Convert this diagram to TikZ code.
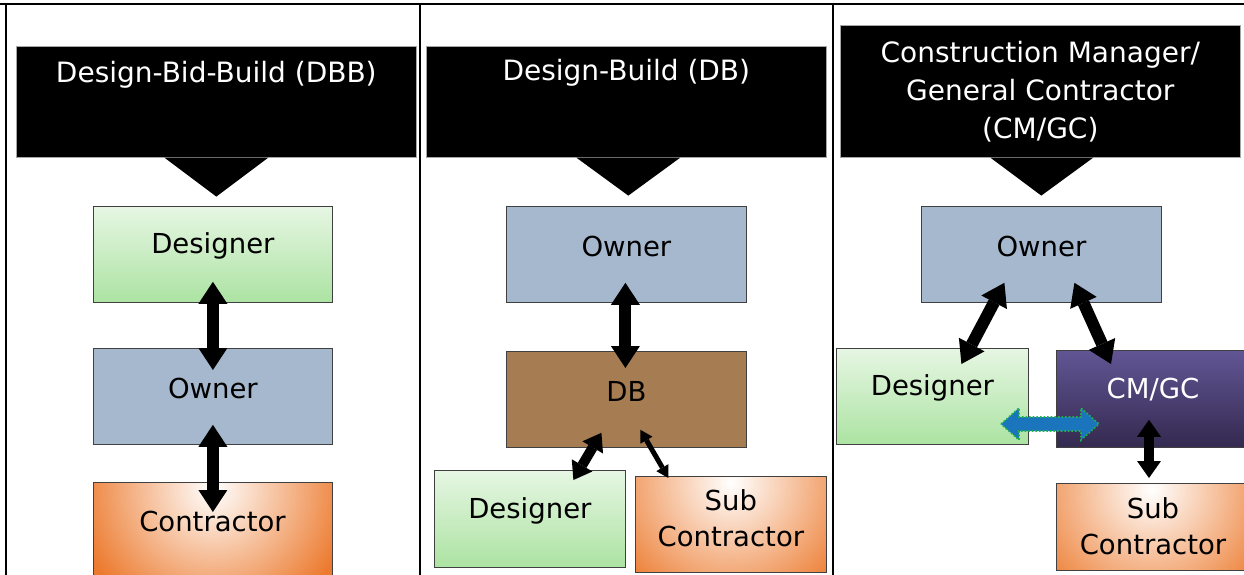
\documentclass[tikz,border=0pt]{standalone}
\usepackage{fontspec}
\setmainfont{DejaVu Sans}
\usetikzlibrary{arrows.meta,calc}
\definecolor{ownerc}{HTML}{A6B8CE}
\definecolor{boxline}{HTML}{404040}
\definecolor{grntop}{HTML}{E6F6E3}
\definecolor{grnbot}{HTML}{ACE3A2}
\definecolor{orng}{HTML}{EC7A2E}
\definecolor{brownc}{HTML}{A67C52}
\definecolor{purtop}{HTML}{615694}
\definecolor{purbot}{HTML}{34294F}
\definecolor{bluearrow}{HTML}{1B75BC}
\definecolor{grndot}{HTML}{22B24C}
\begin{document}
\begin{tikzpicture}[x=1pt,y=-1pt,
  frame/.style={line width=2.5pt, black},
  hdr/.style={fill=black, draw=gray!70, line width=0.6pt, anchor=north west, inner sep=0pt},
  hdrtxt/.style={text=white, font=\fontsize{28}{38}\selectfont, align=center},
  txt/.style={font=\fontsize{27.5}{36}\selectfont, align=center},
  box/.style={draw=boxline, line width=0.8pt, anchor=north west, inner sep=0pt},
  greenbox/.style={box, top color=grntop, bottom color=grnbot},
  ownerbox/.style={box, fill=ownerc},
  brownbox/.style={box, fill=brownc},
  purplebox/.style={box, top color=purtop, bottom color=purbot},
  orangebox/.style={box, fill=orng, path picture={\shade[inner color=white, outer color=orng] ($(path picture bounding box.north)+(0,6)$) circle (140);}},
  bigarrow/.style={line width=12pt, {Triangle[width=29pt,length=22pt,line width=0pt]}-{Triangle[width=29pt,length=22pt,line width=0pt]}},
  midarrow/.style={line width=10pt, {Triangle[width=24pt,length=17pt,line width=0pt]}-{Triangle[width=24pt,length=17pt,line width=0pt]}},
  thinarrow/.style={line width=5pt, {Triangle[width=14pt,length=12pt,line width=0pt]}-{Triangle[width=14pt,length=12pt,line width=0pt]}},
  tri/.style={fill=black}
]
\useasboundingbox (0,0) rectangle (1244,575);
\clip (0,0) rectangle (1244,575);
\fill[white] (0,0) rectangle (1244,575);

% frame
\draw[frame] (0,4) -- (1244,4);
\draw[frame] (6,4) -- (6,575);
\draw[frame] (420,4) -- (420,575);
\draw[frame] (833,4) -- (833,575);

% ---------- Column 1: DBB ----------
\node[hdr, minimum width=400, minimum height=111] (h1) at (16,46) {};
\node[hdrtxt] (h1t) at ($(h1.north)+(0,29)$) {Design-Bid-Build (DBB)};
\fill[tri] ($(h1.south)+(-52,0)$) -- ($(h1.south)+(52,0)$) -- ($(h1.south)+(0,39)$) -- cycle;

\node[greenbox, minimum width=239, minimum height=96, label={[txt, yshift=8pt]center:Designer}] (des1) at (93,206) {};
\node[ownerbox, minimum width=239, minimum height=96, label={[txt, yshift=8pt]center:Owner}] (own1) at (93,348) {};
\node[orangebox, minimum width=239, minimum height=110] (con1) at (93,482) {};
\node[txt] (con1t) at (212.5,521) {Contractor};

\draw[bigarrow] ($(des1.south)+(0,-21)$) -- ($(own1.north)+(0,22)$);
\draw[bigarrow] ($(own1.south)+(0,-20)$) -- ($(con1.north)+(0,30)$);

% ---------- Column 2: DB ----------
\node[hdr, minimum width=400, minimum height=111] (h2) at (426,46) {};
\node[hdrtxt] (h2t) at ($(h2.north)+(0,27)$) {Design-Build (DB)};
\fill[tri] ($(h2.south)+(-50,0)$) -- ($(h2.south)+(54,0)$) -- ($(h2.south)+(2,38)$) -- cycle;

\node[ownerbox, minimum width=240, minimum height=96, label={[txt, yshift=8pt]center:Owner}] (own2) at (506,206) {};
\node[brownbox, minimum width=240, minimum height=96, label={[txt, yshift=8pt]center:DB}] (db2) at (506,351) {};
\node[greenbox, minimum width=191, minimum height=97, label={[txt, yshift=8pt]center:Designer}] (des2) at (434,470) {};
\node[orangebox, minimum width=191, minimum height=96, label={[txt, yshift=6pt]center:Sub\\Contractor}] (sub2) at (635,476) {};

\draw[bigarrow] ($(own2.south)+(-1,-20)$) -- ($(db2.north)+(-1,17)$);
\draw[midarrow] ($(db2.south)+(-25,-15)$) -- ($(des2.north)+(43.5,10)$);
\draw[thinarrow] ($(db2.south)+(14,-18)$) -- ($(sub2.north)+(-62.5,2)$);

% ---------- Column 3: CM/GC ----------
\node[hdr, minimum width=400, minimum height=132] (h3) at (840,25) {};
\node[hdrtxt] (h3t) at (h3.center) {Construction Manager/\\General Contractor\\(CM/GC)};
\fill[tri] ($(h3.south)+(-50,0)$) -- ($(h3.south)+(53,0)$) -- ($(h3.south)+(1,38)$) -- cycle;

\node[ownerbox, minimum width=240, minimum height=96, label={[txt, yshift=8pt]center:Owner}] (own3) at (921,206) {};
\node[greenbox, minimum width=192, minimum height=96, label={[txt, yshift=8pt]center:Designer}] (des3) at (836,348) {};
\node[purplebox, minimum width=194, minimum height=97] (cm3) at (1056,350) {};
\node[txt, text=white] (cm3t) at (1153,390) {CM/GC};
\node[orangebox, minimum width=190, minimum height=87] (sub3) at (1056,483) {};
\node[txt] (sub3t) at (1153,526) {Sub\\Contractor};

\draw[bigarrow] ($(own3.south)+(-37,-20)$) -- ($(des3.north)+(29,16)$);
\draw[bigarrow] ($(own3.south)+(33,-20)$) -- ($(cm3.north west)+(55,14)$);
\draw[midarrow] ($(cm3.south west)+(93,-28)$) -- ($(sub3.north west)+(93,-5)$);

\coordinate (bc) at (1050,424);
\begin{scope}[shift={(bc)}]
\draw[fill=bluearrow, draw=grndot, dotted, line width=1.6pt]
  (-49,0) -- (-31,-16) -- (-31,-7) -- (31,-7) -- (31,-16) -- (49,0)
  -- (31,16) -- (31,7) -- (-31,7) -- (-31,16) -- cycle;
\end{scope}
\end{tikzpicture}
\end{document}
